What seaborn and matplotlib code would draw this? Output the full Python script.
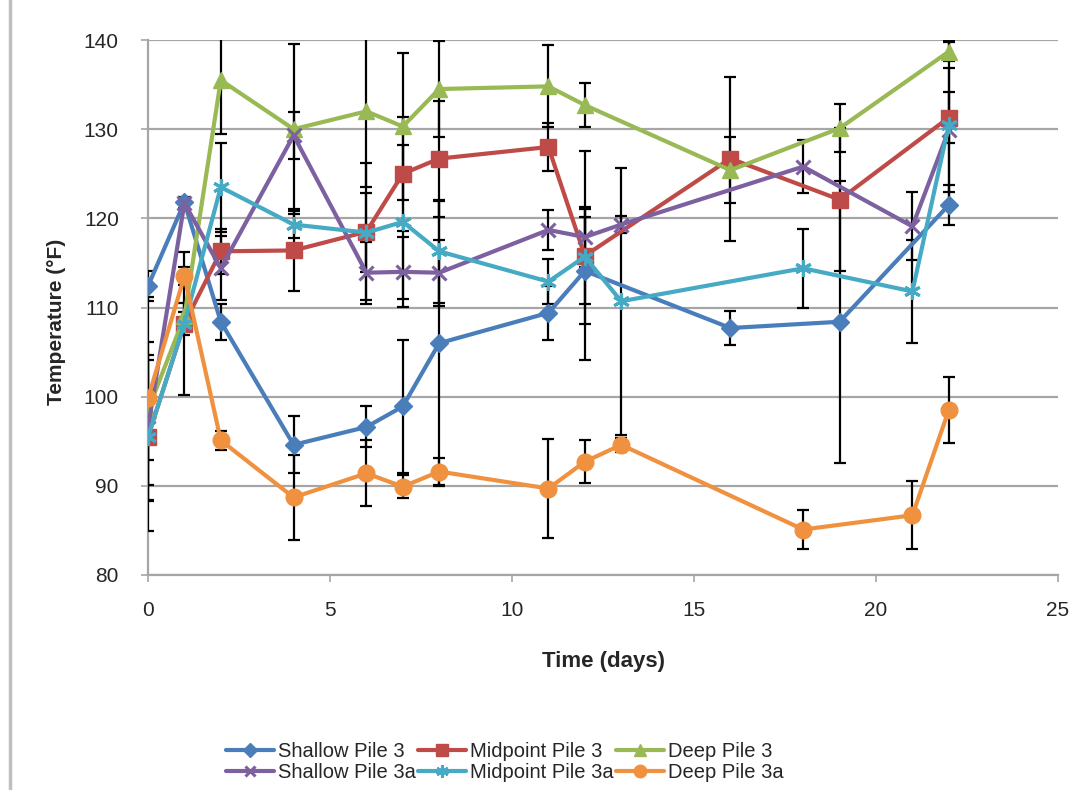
import numpy as np
import pandas as pd
import matplotlib
matplotlib.use("Agg")
import matplotlib.pyplot as plt
from matplotlib.lines import Line2D
import seaborn as sns

# Sampling days for each pile
days_pile3 = [0, 1, 2, 4, 6, 7, 8, 11, 12, 16, 19, 22]
days_pile3a = [0, 1, 2, 4, 6, 7, 8, 11, 12, 13, 18, 21, 22]

# Mean temperatures (°F)
shallow_3 = [112.4, 121.8, 108.4, 94.6, 96.6, 98.9, 106.0, 109.4, 114.1, 107.7, 108.4, 121.5]
midpoint_3 = [95.5, 108.2, 116.3, 116.4, 118.5, 125.0, 126.7, 128.0, 115.8, 126.7, 122.1, 131.3]
deep_3 = [98.5, 109.0, 135.5, 130.0, 132.0, 130.3, 134.5, 134.8, 132.7, 125.4, 130.1, 138.7]
shallow_3a = [96.5, 121.7, 114.4, 129.3, 113.9, 114.0, 113.9, 118.7, 117.9, 119.3, 125.8, 119.1, 129.9]
midpoint_3a = [95.5, 108.2, 123.5, 119.3, 118.4, 119.6, 116.3, 112.9, 115.7, 110.7, 114.4, 111.8, 130.5]
deep_3a = [99.8, 113.5, 95.1, 88.7, 91.4, 89.9, 91.6, 89.7, 92.7, 94.6, 85.1, 86.7, 98.5]

# Error magnitudes (°F)
shallow_3_err = [1.7, 0.6, 2.0, 3.2, 2.3, 7.5, 16.0, 3.0, 6.0, 1.9, 15.8, 2.2]
midpoint_3_err = [10.6, 8.0, 2.5, 4.6, 7.7, 6.4, 6.5, 2.7, 11.7, 9.2, 8.0, 2.9]
deep_3_err = [5.6, 1.5, 6.0, 9.5, 8.5, 8.2, 5.4, 4.6, 2.5, 3.7, 2.7, 1.1]
shallow_3a_err = [8.2, 0.6, 3.6, 2.6, 3.5, 3.9, 3.7, 2.2, 3.4, 1.0, 3.0, 3.8, 7.0]
midpoint_3a_err = [5.4, 1.3, 5.0, 1.5, 4.4, 8.6, 5.8, 2.5, 5.3, 15.0, 4.4, 5.8, 9.5]
deep_3a_err = [11.4, 1.0, 1.1, 4.8, 3.7, 1.3, 1.5, 5.5, 2.4, 0.8, 2.2, 3.8, 3.7]

series_names = ["Shallow Pile 3", "Midpoint Pile 3", "Deep Pile 3",
                "Shallow Pile 3a", "Midpoint Pile 3a", "Deep Pile 3a"]
series_days = [days_pile3, days_pile3, days_pile3,
               days_pile3a, days_pile3a, days_pile3a]
series_vals = [shallow_3, midpoint_3, deep_3, shallow_3a, midpoint_3a, deep_3a]
series_errs = [shallow_3_err, midpoint_3_err, deep_3_err,
               shallow_3a_err, midpoint_3a_err, deep_3a_err]

colors = ["#4A7EBB", "#BE4B48", "#98B954", "#7D60A0", "#46AAC5", "#F0913F"]
markers = ["D", "s", "^", "x", (6, 2, 0), "o"]
msizes = [9, 11, 12, 10, 12, 12]
mews = [1, 1, 1, 2.2, 2.2, 1]

frames = []
for name, d, v, e in zip(series_names, series_days, series_vals, series_errs):
    frames.append(pd.DataFrame({"day": d, "temp": v, "err": e, "series": name}))
df = pd.concat(frames, ignore_index=True)

sns.set_theme(style="white")
plt.rcParams["font.family"] = ["Liberation Sans", "DejaVu Sans"]

fig = plt.figure(figsize=(10.84, 7.90), dpi=100)
ax = fig.add_axes([148 / 1084, 1 - 575 / 790, (1058 - 148) / 1084, (575 - 40) / 790])

# Error bars first, then the lines and markers on top
for name, c in zip(series_names, colors):
    sub = df[df["series"] == name]
    ax.errorbar(sub["day"], sub["temp"], yerr=sub["err"], fmt="none",
                ecolor="black", elinewidth=1.6, capsize=4, capthick=1.6, zorder=3)

handles = []
for name, c, m, ms, mew in zip(series_names, colors, markers, msizes, mews):
    sub = df[df["series"] == name]
    sns.lineplot(data=sub, x="day", y="temp", ax=ax, color=c, linewidth=3,
                 marker=m, markersize=ms, markeredgecolor=c, markerfacecolor=c,
                 markeredgewidth=mew, legend=False, zorder=4, errorbar=None)
    handles.append(Line2D([0], [0], color=c, linewidth=3, marker=m,
                          markersize=ms * 0.75, markeredgecolor=c,
                          markerfacecolor=c, markeredgewidth=mew))

ax.set_xlim(0, 25)
ax.set_ylim(80, 140)
ax.set_xticks([0, 5, 10, 15, 20, 25])
ax.set_yticks([80, 90, 100, 110, 120, 130, 140])
ax.yaxis.grid(True, color="#A6A6A6", linewidth=1.6)
ax.xaxis.grid(False)
ax.set_axisbelow(True)

for side in ["top", "right"]:
    ax.spines[side].set_visible(False)
for side in ["left", "bottom"]:
    ax.spines[side].set_color("#A6A6A6")
    ax.spines[side].set_linewidth(1.6)

ax.tick_params(axis="both", which="major", direction="out", length=5, width=1.2,
               color="#A6A6A6", labelsize=15, labelcolor="#262626",
               left=True, bottom=True)
ax.tick_params(axis="y", pad=16)
ax.tick_params(axis="x", pad=14)

ax.set_xlabel("Time (days)", fontsize=16, fontweight="bold", labelpad=22)
ax.set_ylabel("Temperature (°F)", fontsize=15, fontweight="bold")
ax.yaxis.set_label_coords(-0.09, 0.473)

# Legend: two rows of three
order = [0, 3, 1, 4, 2, 5]
leg = fig.legend([handles[i] for i in order], [series_names[i] for i in order],
                 ncol=3, loc="center", bbox_to_anchor=(505 / 1084, 1 - 762 / 790),
                 frameon=False, fontsize=14.5, handlelength=2.4, handletextpad=0.2,
                 columnspacing=0.1, labelspacing=0.12)

# Chart area border
fig.add_artist(Line2D([10 / 1084, 10 / 1084], [0, 1], color="#BFBFBF", linewidth=2.5,
                      transform=fig.transFigure))

fig.savefig("out.png", dpi=100)
